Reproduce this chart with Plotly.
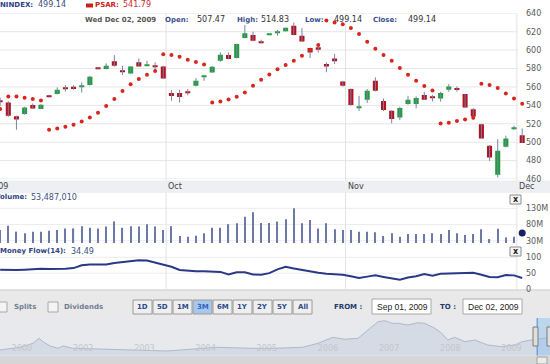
import plotly.graph_objects as go

W, H = 550, 364

# ---------------- data ----------------
OPEN = [544.6, 543.2, 528.3, 530.5, 540.3, 536.0, 549.6, 552.2, 558.5, 560.2,
        560.0, 562.0, 579.8, 579.4, 587.8, 577.5, 574.7, 586.7, 583.5, 582.8,
        582.3, 553.3, 553.3, 554.5, 561.3, 571.0, 575.8, 588.5, 594.6, 591.4,
        613.1, 616.4, 609.0, 617.0, 618.3, 620.4, 626.5, 615.7, 602.2, 603.0,
        585.0, 591.0, 566.0, 557.7, 537.6, 546.0, 566.7, 544.6, 534.1, 526.9,
        541.4, 541.4, 551.2, 549.3, 547.5, 557.0, 558.8, 552.2, 535.9, 519.6,
        496.1, 464.6, 495.0, 514.5, 507.47]
HIGH = [548.5, 544.5, 528.8, 538.5, 542.0, 541.2, 549.8, 559.5, 562.0, 562.0,
        565.0, 572.0, 581.0, 585.6, 594.6, 583.0, 582.8, 591.0, 588.5, 586.7,
        583.0, 556.6, 557.0, 557.7, 569.6, 571.4, 582.5, 597.5, 597.5, 607.0,
        627.2, 620.0, 611.3, 617.5, 622.0, 624.6, 630.0, 624.0, 602.5, 606.6,
        586.7, 595.7, 566.7, 558.4, 550.4, 557.7, 570.4, 547.5, 534.8, 538.5,
        550.4, 549.7, 554.8, 551.2, 554.8, 563.1, 560.6, 552.5, 537.0, 520.0,
        496.8, 503.3, 507.0, 517.8, 514.83]
LOW = [539.5, 527.5, 513.5, 529.8, 536.0, 535.8, 548.8, 552.0, 555.0, 557.0,
       554.0, 561.5, 579.0, 579.0, 582.0, 573.0, 574.2, 582.0, 583.3, 577.6,
       569.0, 545.0, 543.2, 551.0, 560.6, 566.7, 575.5, 587.4, 590.0, 591.0,
       612.8, 609.5, 607.3, 616.8, 615.6, 620.2, 616.0, 609.3, 591.4, 597.5,
       576.0, 584.9, 560.5, 539.6, 534.0, 542.5, 555.0, 533.8, 520.4, 524.0,
       540.7, 536.7, 546.0, 544.3, 544.0, 554.8, 554.8, 537.5, 524.3, 503.8,
       479.8, 461.7, 494.3, 513.5, 499.14]
CLOSE = [544.2, 528.7, 524.7, 537.8, 536.7, 540.7, 549.0, 557.0, 557.5, 557.7,
         560.8, 571.1, 579.5, 583.0, 583.0, 576.5, 582.3, 582.3, 583.8, 582.0,
         569.3, 550.1, 549.0, 553.6, 566.7, 571.3, 582.0, 595.0, 590.3, 606.6,
         618.2, 610.2, 608.4, 617.3, 618.6, 624.3, 616.4, 609.5, 597.5, 600.4,
         582.3, 587.8, 561.3, 540.3, 537.9, 555.9, 555.9, 534.9, 525.1, 537.0,
         546.1, 547.9, 546.1, 548.6, 553.3, 560.6, 556.6, 537.8, 528.0, 504.1,
         483.4, 490.6, 504.1, 514.9, 499.14]
PSAR = [536.0, 549.7, 549.7, 548.3, 546.8, 545.4, 513.5, 514.9, 516.7, 518.9,
        522.5, 526.9, 532.0, 539.2, 546.8, 555.5, 562.8, 568.6, 573.3, 577.2,
        595.4, 594.6, 592.8, 589.6, 587.0, 584.5, 543.2, 544.3, 546.4, 549.3,
        554.0, 561.3, 567.8, 573.6, 579.1, 583.8, 588.5, 593.9, 600.4, 605.5,
        632.3, 630.1, 628.0, 624.0, 617.5, 609.1, 601.5, 594.6, 588.5, 580.5,
        573.3, 566.7, 561.0, 556.2, 520.4, 521.1, 522.9, 524.7, 526.5, 563.5,
        562.0, 558.8, 553.0, 547.5, 541.79]
VOLUME_M = [63, 76, 58, 53, 58, 58, 61, 63, 68, 68,
            75, 70, 68, 74, 89, 70, 75, 74, 81, 74,
            63, 75, 44.5, 42, 45, 53, 70, 70, 81, 84,
            104, 117.6, 85, 85, 89, 96, 130, 84, 94, 68,
            84, 65, 63, 63, 58, 58, 56, 44.5, 53, 42,
            50.7, 50.7, 50.7, 53, 50.7, 63, 53, 47.6, 50.7, 65,
            35, 67, 40, 42, 53.487010]
MONEY_FLOW = [61, 60, 60, 61, 63, 64, 63, 63, 64, 66,
              75, 77, 77, 77, 82, 85, 88, 91, 90, 84,
              77, 70, 60, 57, 56, 56, 55, 54, 46, 53,
              53, 46, 45, 50, 62, 70, 65, 60, 54, 51,
              48, 47, 45, 40, 35, 39, 43, 38, 33, 29,
              36, 40, 47, 42, 48, 49, 50, 50, 51, 45,
              38, 37, 44, 43, 34.49]

PRICE_TICKS = [460, 480, 500, 520, 540, 560, 580, 600, 620, 640]
VOL_TICKS = [30, 80, 130]
VOL_TICK_TEXT = ["30M", "80M", "130M"]
MF_TICKS = [0, 50, 100]
MONTH_NAMES = ["Oct", "Nov", "Dec"]
MONTH_FIRST_IDX = [21, 43, 64]   # index of first trading day of each month

NAV_YEAR = [2000.64, 2000.97, 2001.18, 2001.28, 2001.34, 2001.46, 2001.59, 2001.67,
            2001.83, 2002.27, 2002.81, 2003.37, 2003.79, 2004.19, 2004.73, 2005.13,
            2005.58, 2005.84, 2006.08, 2006.28, 2006.49, 2006.65, 2006.82, 2006.93,
            2007.05, 2007.14, 2007.31, 2007.47, 2007.58, 2007.75, 2007.86, 2007.96,
            2008.07, 2008.24, 2008.40, 2008.61, 2008.84, 2009.06, 2009.17, 2009.33,
            2009.50, 2009.63]
NAV_LEVEL = [146, 217, 323, 456, 366, 252, 191, 252, 191, 164, 146, 119, 164, 217,
             191, 191, 217, 323, 482, 429, 456, 657, 896, 922, 853, 853, 808, 869,
             853, 721, 588, 411, 482, 366, 411, 278, 233, 278, 366, 411, 456, 482]
NAV_TICK_YEARS = [2001, 2002, 2003, 2004, 2005, 2006, 2007, 2008, 2009]
NAV_TICK_TEXT = ["2000", "2002", "2003", "2004", "2005", "2006", "2007", "2008", "2009"]
NAV_SELECT_START = 2009.67 - 0.25

RANGE_BUTTONS = ["1D", "5D", "1M", "3M", "6M", "1Y", "2Y", "5Y", "All"]
ACTIVE_BUTTON = "3M"

# ---------------- helpers ----------------
FONT = "DejaVu Sans"
NAVY = "#2f4283"
GREEN = "#1f9d3d"
RED = "#b3121e"
WICK = "#7884a8"


def fx(px):
    return px / W


def fy(py):
    return 1 - py / H


def txt(px, py, s, size=8, color="#333", bold=False, anchor="left", family=FONT):
    return dict(xref="paper", yref="paper", x=fx(px), y=fy(py),
                text=("<b>%s</b>" % s) if bold else s, showarrow=False,
                xanchor=anchor, yanchor="middle", borderpad=0,
                font=dict(size=size, color=color, family=family))


n = len(OPEN)
idx = list(range(n))
STEP = 8.157
X0 = -0.14 / STEP
X1 = (525 - 0.14) / STEP

fig = go.Figure()

# wicks
wx, wy = [], []
for i in idx:
    wx += [i, i, None]
    wy += [LOW[i], HIGH[i], None]
fig.add_trace(go.Scatter(x=wx, y=wy, mode="lines", line=dict(color=WICK, width=1),
                         hoverinfo="skip", xaxis="x", yaxis="y"))
# bodies
base = [min(o, c) for o, c in zip(OPEN, CLOSE)]
hgt = [max(abs(c - o), 1.1) for o, c in zip(OPEN, CLOSE)]
cols = [GREEN if c >= o else RED for o, c in zip(OPEN, CLOSE)]
fig.add_trace(go.Bar(x=idx, y=hgt, base=base, width=0.62, marker=dict(color=cols, line=dict(width=0)),
                     xaxis="x", yaxis="y"))
# PSAR
fig.add_trace(go.Scatter(x=idx, y=PSAR, mode="markers", marker=dict(color="#d8261c", size=4),
                         xaxis="x", yaxis="y"))
# volume
fig.add_trace(go.Bar(x=idx[:-1], y=VOLUME_M[:-1], width=0.14,
                     marker=dict(color="#6c79a9", line=dict(width=0)), xaxis="x", yaxis="y2"))
fig.add_trace(go.Scatter(x=[idx[-1]], y=[VOLUME_M[-1]], mode="markers",
                         marker=dict(color="#15205e", size=7), xaxis="x", yaxis="y2", cliponaxis=False))
# money flow
fig.add_trace(go.Scatter(x=idx, y=MONEY_FLOW, mode="lines", line=dict(color="#2b3886", width=2),
                         xaxis="x", yaxis="y3"))
# navigator
fig.add_trace(go.Scatter(x=NAV_YEAR, y=NAV_LEVEL, mode="lines", fill="tozeroy",
                         fillcolor="#d4dbe5", line=dict(color="#aeb8c8", width=1),
                         xaxis="x2", yaxis="y4"))

shapes = []
# backgrounds
shapes.append(dict(type="rect", xref="paper", yref="paper", x0=0, x1=1, y0=fy(318), y1=fy(290.5),
                   fillcolor="#e9e9e9", line=dict(width=0), layer="below"))
shapes.append(dict(type="rect", xref="paper", yref="paper", x0=0, x1=1, y0=fy(355.5), y1=fy(318),
                   fillcolor="#e7e9ec", line=dict(width=0), layer="below"))
shapes.append(dict(type="rect", xref="paper", yref="paper", x0=0, x1=1, y0=0, y1=fy(355.5),
                   fillcolor="#d6d6d6", line=dict(width=0), layer="below"))
# horizontal gridlines
for v in PRICE_TICKS:
    shapes.append(dict(type="line", xref="paper", x0=0, x1=fx(517), yref="y", y0=v, y1=v,
                       line=dict(color="#e6e6e6", width=1), layer="below"))
for v in VOL_TICKS:
    shapes.append(dict(type="line", xref="paper", x0=0, x1=fx(517), yref="y2", y0=v, y1=v,
                       line=dict(color="#ededed", width=1), layer="below"))
for v in MF_TICKS[1:]:
    shapes.append(dict(type="line", xref="paper", x0=0, x1=fx(517), yref="y3", y0=v, y1=v,
                       line=dict(color="#ededed", width=1), layer="below"))
shapes.append(dict(type="line", xref="paper", x0=0, x1=1, yref="paper", y0=fy(290), y1=fy(290),
                   line=dict(color="#c4c4c4", width=1), layer="below"))
# month gridlines
for fi in MONTH_FIRST_IDX:
    shapes.append(dict(type="line", xref="x", x0=fi - 0.65, x1=fi - 0.65, yref="paper",
                       y0=fy(290), y1=fy(13.3), line=dict(color="#e2e2e2", width=1), layer="below"))
# x-axis band
shapes.append(dict(type="rect", xref="paper", yref="paper", x0=0, x1=1, y0=fy(193), y1=fy(180.5),
                   fillcolor="#edeff2", line=dict(width=0), layer="below"))
# header legend swatch
shapes.append(dict(type="rect", xref="paper", yref="paper", x0=fx(86), x1=fx(93), y0=fy(7.5), y1=fy(3.5),
                   fillcolor="#cc2020", line=dict(width=0)))
# close boxes
for py in (195, 247):
    shapes.append(dict(type="rect", xref="paper", yref="paper", x0=fx(510), x1=fx(521),
                       y0=fy(py + 9), y1=fy(py), fillcolor="#f7f7f7", line=dict(color="#8a8a8a", width=1)))
# checkboxes
for x0 in (-3, 48):
    shapes.append(dict(type="rect", xref="paper", yref="paper", x0=fx(x0), x1=fx(x0 + 10),
                       y0=fy(312), y1=fy(302), fillcolor="#f4f4f4", line=dict(color="#a8a8a8", width=1)))
# range buttons
for k, b in enumerate(RANGE_BUTTONS):
    b0 = 133 + 20 * k
    active = b == ACTIVE_BUTTON
    shapes.append(dict(type="rect", xref="paper", yref="paper", x0=fx(b0), x1=fx(b0 + 19),
                       y0=fy(314), y1=fy(300), fillcolor="#a9c7ec" if active else "#efefef",
                       line=dict(color="#9a9a9a", width=1)))
# date boxes
for x0, x1 in ((372, 431), (463, 522)):
    shapes.append(dict(type="rect", xref="paper", yref="paper", x0=fx(x0), x1=fx(x1),
                       y0=fy(314), y1=fy(299), fillcolor="#ffffff", line=dict(color="#a8a8a8", width=1)))
# navigator selection
shapes.append(dict(type="rect", xref="x2", yref="paper", x0=NAV_SELECT_START, x1=2009.75,
                   y0=fy(355.5), y1=fy(318), fillcolor="rgba(140,190,240,0.45)", line=dict(width=0)))
shapes.append(dict(type="line", xref="x2", yref="paper", x0=NAV_SELECT_START, x1=NAV_SELECT_START,
                   y0=fy(355.5), y1=fy(318), line=dict(color="#3c8ee0", width=1)))
for hx in (533, 547):
    shapes.append(dict(type="rect", xref="paper", yref="paper", x0=fx(hx), x1=fx(hx + 5),
                       y0=fy(346), y1=fy(327), fillcolor="#dedede", line=dict(color="#7c7c7c", width=1)))
shapes.append(dict(type="rect", xref="paper", yref="paper", x0=fx(537), x1=fx(547),
                   y0=fy(364), y1=fy(357), fillcolor="#ececec", line=dict(color="#a0a0a0", width=1)))

ann = []
# header row 1
ann.append(txt(-1, 5, "NINDEX:", size=7, color=NAVY, bold=True))
ann.append(txt(37, 5, "499.14", size=8, color="#3d5080"))
ann.append(txt(94, 5, "PSAR:", size=7, color="#cc2020", bold=True))
ann.append(txt(122, 5, "541.79", size=8, color="#cc3030"))
# header row 2
ann.append(txt(84, 19.5, "Wed Dec 02, 2009", size=7, color="#555555", bold=True))
for lab, lx, val, vx in (("Open:", 164, "507.47", 196), ("High:", 236, "514.83", 260),
                         ("Low:", 304, "499.14", 333), ("Close:", 372, "499.14", 407)):
    ann.append(txt(lx, 19.5, lab, size=7, color="#3a4f8c", bold=True))
    ann.append(txt(vx, 19.5, val, size=8, color="#333333"))
# x axis labels
ann.append(txt(8.5, 187, "2009", size=8, color="#444", anchor="right"))
for name, fi in zip(MONTH_NAMES, MONTH_FIRST_IDX):
    ann.append(dict(xref="x", yref="paper", x=fi - 0.65, y=fy(187), text=name, showarrow=False,
                    xanchor="left", yanchor="middle", xshift=1, borderpad=0,
                    font=dict(size=8, color="#444", family=FONT)))
# pane headers
ann.append(txt(27.5, 197.5, "Volume:", size=7, color=NAVY, bold=True, anchor="right"))
ann.append(txt(29.5, 197.5, "53,487,010", size=8, color="#3d5080"))
ann.append(txt(67, 251, "Money Flow(14):", size=7, color=NAVY, bold=True, anchor="right"))
ann.append(txt(70, 251, "34.49", size=8, color="#3d5080"))
for py in (195, 247):
    ann.append(txt(515.5, py + 4.5, "x", size=8, color="#222", bold=True, anchor="center"))
# toolbar
ann.append(txt(13, 307, "Splits", size=7, color="#717d92", bold=True))
ann.append(txt(63, 307, "Dividends", size=7, color="#717d92", bold=True))
for k, b in enumerate(RANGE_BUTTONS):
    b0 = 133 + 20 * k
    ann.append(txt(b0 + 9.5, 307, b, size=7, color="#2f62c0" if b == ACTIVE_BUTTON else "#2d4a8a",
                   bold=True, anchor="center"))
ann.append(txt(333, 307, "FROM :", size=7, color="#1f3a6e", bold=True))
ann.append(txt(376, 306.5, "Sep 01, 2009", size=8.5, color="#222", family="Liberation Sans"))
ann.append(txt(439, 307, "TO :", size=7, color="#1f3a6e", bold=True))
ann.append(txt(467, 306.5, "Dec 02, 2009", size=8.5, color="#222", family="Liberation Sans"))

yaxis_common = dict(side="right", anchor="x", showgrid=False, zeroline=False, showline=False,
                    ticks="", ticklen=0, automargin=False,
                    tickfont=dict(size=8, color="#5a5a5a", family=FONT))

fig.update_layout(
    width=W, height=H, margin=dict(l=0, r=0, t=0, b=0, pad=0),
    paper_bgcolor="white", plot_bgcolor="rgba(0,0,0,0)",
    showlegend=False, barmode="overlay", template="none",
    font=dict(family=FONT),
    xaxis=dict(domain=[0, 525 / W], range=[X0, X1], visible=False, fixedrange=True),
    yaxis=dict(domain=[fy(179.0), fy(13.3)], range=[460, 640], tickvals=PRICE_TICKS, **yaxis_common),
    yaxis2=dict(domain=[fy(243), fy(203)], range=[22.9, 146.4], tickvals=VOL_TICKS,
                ticktext=VOL_TICK_TEXT, **yaxis_common),
    yaxis3=dict(domain=[fy(290), fy(255)], range=[-3.2, 107.3], tickvals=MF_TICKS, **yaxis_common),
    xaxis2=dict(domain=[0, 1], range=[2000.64, 2009.63], anchor="y4", showgrid=False, zeroline=False,
                showline=False, ticks="", tickvals=NAV_TICK_YEARS, ticktext=NAV_TICK_TEXT,
                ticklabelposition="inside", automargin=False,
                tickfont=dict(size=8, color="#c3c6cc", family=FONT)),
    yaxis4=dict(domain=[fy(355.5), fy(318)], range=[0, 994], visible=False, anchor="x2"),
    shapes=shapes, annotations=ann,
)

fig.write_html("out.html", config={"displayModeBar": False},
               post_script="document.body.style.margin='0';document.body.style.overflow='hidden';")
